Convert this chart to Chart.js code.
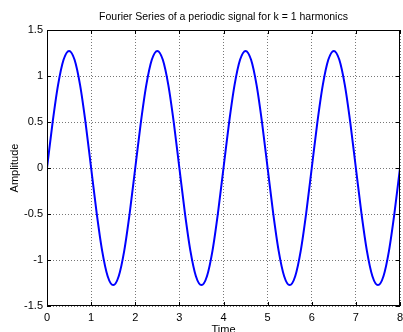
<!DOCTYPE html>
<html>
<head>
<meta charset="utf-8">
<script src="https://cdn.jsdelivr.net/npm/chart.js@4"></script>
<style>
  html, body { margin: 0; padding: 0; background: #fff; }
  #wrap { width: 403px; height: 332px; position: relative; }
</style>
</head>
<body>
<div id="wrap"><canvas id="chart"></canvas></div>
<script>
// Fourier series, k = 1 harmonic, every 0.125 s
const times = [
  0, 0.125, 0.25, 0.375, 0.5, 0.625, 0.75, 0.875,
  1, 1.125, 1.25, 1.375, 1.5, 1.625, 1.75, 1.875,
  2, 2.125, 2.25, 2.375, 2.5, 2.625, 2.75, 2.875,
  3, 3.125, 3.25, 3.375, 3.5, 3.625, 3.75, 3.875,
  4, 4.125, 4.25, 4.375, 4.5, 4.625, 4.75, 4.875,
  5, 5.125, 5.25, 5.375, 5.5, 5.625, 5.75, 5.875,
  6, 6.125, 6.25, 6.375, 6.5, 6.625, 6.75, 6.875,
  7, 7.125, 7.25, 7.375, 7.5, 7.625, 7.75, 7.875,
  8
];
const amplitude = [
  0, 0.487, 0.900, 1.176, 1.273, 1.176, 0.900, 0.487,
  0, -0.487, -0.900, -1.176, -1.273, -1.176, -0.900, -0.487,
  0, 0.487, 0.900, 1.176, 1.273, 1.176, 0.900, 0.487,
  0, -0.487, -0.900, -1.176, -1.273, -1.176, -0.900, -0.487,
  0, 0.487, 0.900, 1.176, 1.273, 1.176, 0.900, 0.487,
  0, -0.487, -0.900, -1.176, -1.273, -1.176, -0.900, -0.487,
  0, 0.487, 0.900, 1.176, 1.273, 1.176, 0.900, 0.487,
  0, -0.487, -0.900, -1.176, -1.273, -1.176, -0.900, -0.487,
  0
];
const xTicks = [0, 1, 2, 3, 4, 5, 6, 7, 8];
const yTicks = [-1.5, -1, -0.5, 0, 0.5, 1, 1.5];

const FONT = 'Liberation Sans, Arial, Helvetica, sans-serif';

// box round the plot area plus matlab-style inward ticks
const frame = {
  id: 'frame',
  afterDraw(chart) {
    const { ctx, chartArea: a, scales: { x, y } } = chart;
    const len = 4;
    ctx.save();
    ctx.strokeStyle = '#000';
    ctx.lineWidth = 1;
    ctx.strokeRect(Math.round(a.left) + 0.5, Math.round(a.top) + 0.5,
      Math.round(a.right - a.left) - 1, Math.round(a.bottom - a.top) - 1);
    ctx.beginPath();
    x.ticks.forEach(t => {
      const px = Math.round(x.getPixelForValue(t.value)) + 0.5;
      ctx.moveTo(px, a.bottom); ctx.lineTo(px, a.bottom - len);
      ctx.moveTo(px, a.top); ctx.lineTo(px, a.top + len);
    });
    y.ticks.forEach(t => {
      const py = Math.round(y.getPixelForValue(t.value)) + 0.5;
      ctx.moveTo(a.left, py); ctx.lineTo(a.left + len, py);
      ctx.moveTo(a.right, py); ctx.lineTo(a.right - len, py);
    });
    ctx.stroke();
    ctx.restore();
  }
};

new Chart(document.getElementById('chart'), {
  type: 'line',
  data: {
    datasets: [{
      data: times.map((t, i) => ({ x: t, y: amplitude[i] })),
      borderColor: '#0000ff',
      borderWidth: 2,
      pointRadius: 0,
      cubicInterpolationMode: 'monotone',
      fill: false
    }]
  },
  options: {
    responsive: true,
    maintainAspectRatio: false,
    animation: false,
    layout: { padding: { left: 0, right: 3, top: 0, bottom: 0 } },
    plugins: {
      legend: { display: false },
      tooltip: { enabled: false },
      title: {
        display: true,
        fullSize: false,
        text: 'Fourier Series of a periodic signal for k = 1 harmonics',
        color: '#000',
        font: { family: FONT, size: 10.5, weight: 'normal' },
        padding: { top: 11, bottom: 6.4 }
      }
    },
    scales: {
      x: {
        type: 'linear',
        min: 0,
        max: 8,
        afterBuildTicks: s => { s.ticks = xTicks.map(v => ({ value: v })); },
        afterFit: s => { s.height = 26; s.paddingRight = 0; s.paddingLeft = 0; },
        ticks: {
          color: '#000',
          font: { family: FONT, size: 11 },
          padding: 5,
          maxRotation: 0,
          callback: v => String(v)
        },
        grid: { color: '#777', borderDash: [1, 2], drawTicks: false },
        border: { display: false, dash: [1, 2] },
        title: {
          display: true,
          text: 'Time',
          color: '#000',
          font: { family: FONT, size: 11 },
          padding: { top: 0, bottom: -5 }
        }
      },
      y: {
        min: -1.5,
        max: 1.5,
        afterBuildTicks: s => { s.ticks = yTicks.map(v => ({ value: v })); },
        afterFit: s => { s.width = 47; },
        ticks: {
          color: '#000',
          font: { family: FONT, size: 11 },
          padding: 4,
          callback: v => String(v)
        },
        grid: { color: '#777', borderDash: [1, 2], drawTicks: false },
        border: { display: false, dash: [1, 2] },
        title: {
          display: true,
          text: 'Amplitude',
          color: '#000',
          font: { family: FONT, size: 11 },
          padding: { top: 8, bottom: 0 }
        }
      }
    }
  },
  plugins: [frame]
});
</script>
</body>
</html>
